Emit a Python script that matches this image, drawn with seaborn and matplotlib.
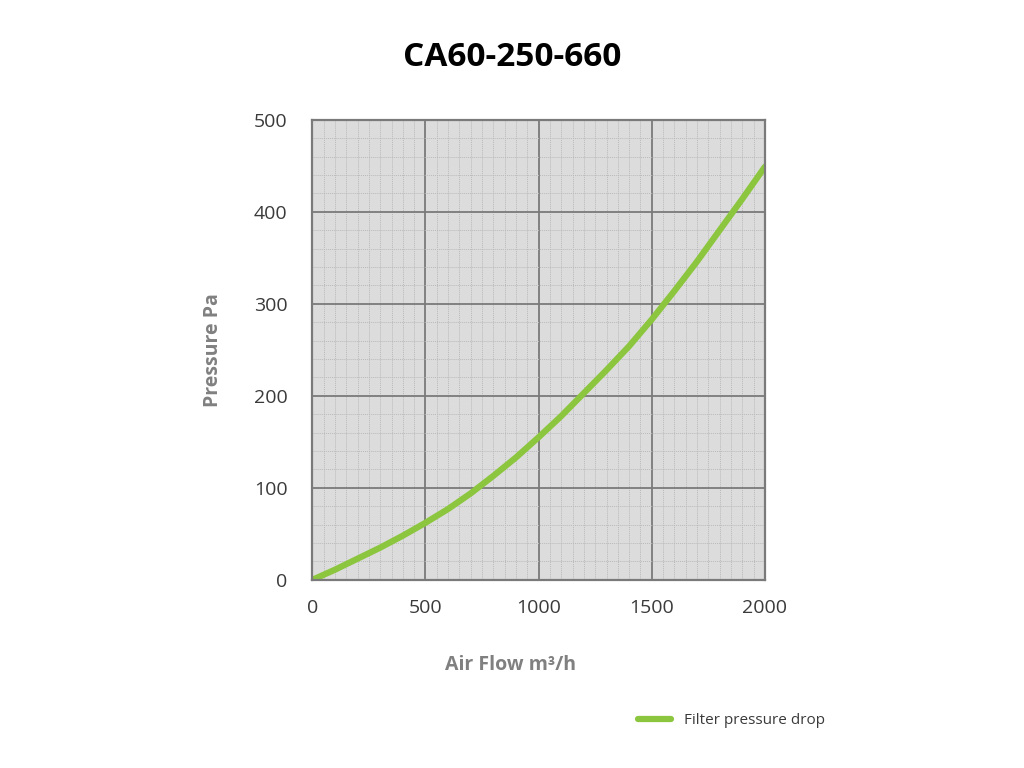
import numpy as np
import pandas as pd
import matplotlib
matplotlib.use("Agg")
import matplotlib.pyplot as plt
import seaborn as sns
from matplotlib.ticker import MultipleLocator
from matplotlib.lines import Line2D

# data
air_flow = [0, 100, 200, 300, 400, 500, 600, 700, 800, 900, 1000,
            1100, 1200, 1300, 1400, 1500, 1600, 1700, 1800, 1900, 2000]
pressure = [0, 11, 23, 35, 48, 62, 77, 94, 113, 133, 155,
            178, 203, 228, 254, 283, 314, 346, 380, 414, 449]

TITLE = "CA60-250-660"
SERIES = "Filter pressure drop"

sns.set_style("white")
plt.rcParams['font.family'] = ['Open Sans', 'DejaVu Sans']

df = pd.DataFrame({"Air Flow": air_flow, "Pressure": pressure, "series": SERIES})

fig = plt.figure(figsize=(10.24, 7.68), dpi=100)
ax = fig.add_axes([0.305, 0.245, 0.442, 0.599])
ax.set_facecolor("#dcdcdc")

sns.lineplot(data=df, x="Air Flow", y="Pressure", hue="series",
             palette=["#8cc63f"], linewidth=4.5, ax=ax, legend=False,
             solid_capstyle="round", solid_joinstyle="round")

ax.set_xlim(0, 2000)
ax.set_ylim(0, 500)
ax.xaxis.set_major_locator(MultipleLocator(500))
ax.yaxis.set_major_locator(MultipleLocator(100))
ax.xaxis.set_minor_locator(MultipleLocator(50))
ax.yaxis.set_minor_locator(MultipleLocator(20))
ax.grid(which="major", color="#7a7a7a", linewidth=1.3)
ax.grid(which="minor", color="#bababa", linewidth=0.7, linestyle=(0, (1, 1)))
ax.set_axisbelow(True)
for s in ax.spines.values():
    s.set_color("#7a7a7a")
    s.set_linewidth(1.6)

ax.tick_params(which="both", length=0, labelsize=14, labelcolor="#3a3a3a")
ax.tick_params(axis="x", pad=14)
ax.tick_params(axis="y", pad=18)

ax.set_xlabel("Air Flow m³/h", fontsize=14, fontweight="bold", color="#808080")
ax.xaxis.set_label_coords(0.438, -0.163)
ax.set_ylabel("Pressure Pa", fontsize=14, fontweight="bold", color="#808080", labelpad=22)
fig.text(0.5, 0.925, TITLE, ha="center", va="center", fontsize=24, fontweight="bold", color="black")

# legend below the plot, bottom right
handle = Line2D([], [], color="#8cc63f", linewidth=4.5)
fig.legend([handle], [SERIES], loc="center", bbox_to_anchor=(0.714, 0.062),
           frameon=False, fontsize=11, handlelength=2.2, labelcolor="#3a3a3a")

fig.savefig("out.png", dpi=100)
